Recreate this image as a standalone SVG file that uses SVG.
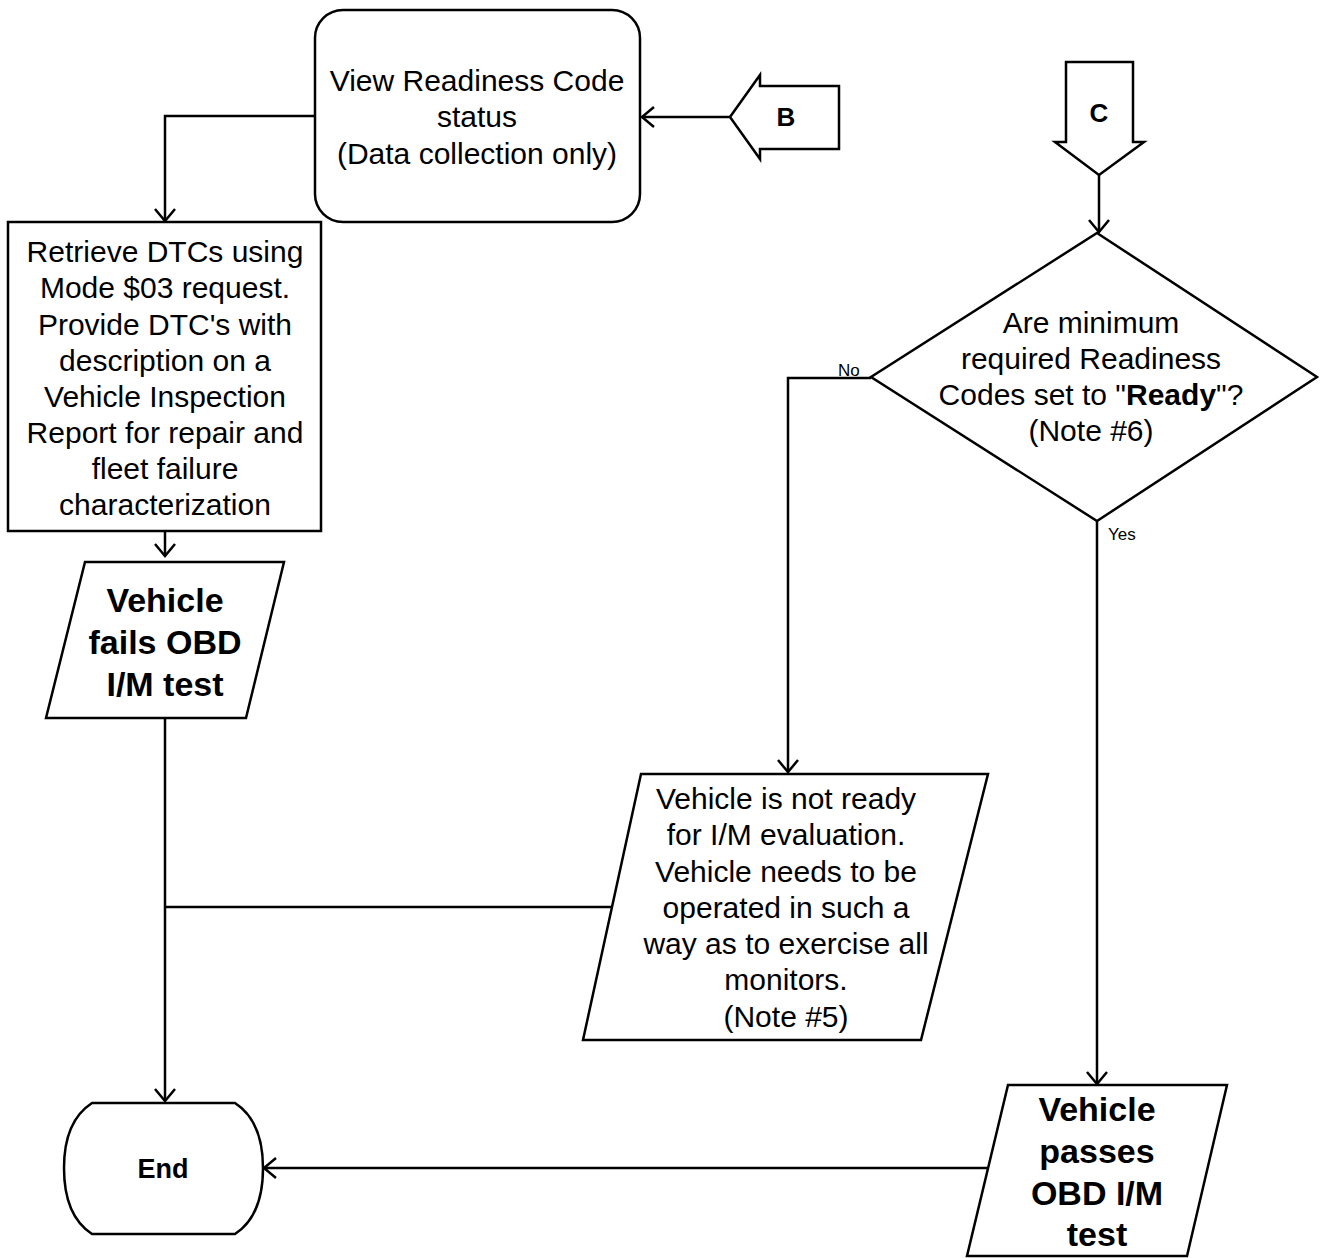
<svg xmlns="http://www.w3.org/2000/svg" width="1321" height="1258" viewBox="0 0 1321 1258">
<style>
.s{fill:#fff;stroke:#000;stroke-width:2.5;stroke-linejoin:miter}
.c{fill:none;stroke:#000;stroke-width:2.5}
.t{font-family:"Liberation Sans",Arial,sans-serif;font-size:30px;text-anchor:middle;fill:#000}
.b{font-family:"Liberation Sans",Arial,sans-serif;font-size:34px;font-weight:bold;text-anchor:middle;fill:#000}
.l{font-family:"Liberation Sans",Arial,sans-serif;font-size:17px;fill:#000}
</style>
<defs>
<marker id="ah" markerUnits="userSpaceOnUse" markerWidth="16" markerHeight="24" refX="13" refY="11" orient="auto">
<path d="M1,1 L13,11 L1,21" fill="none" stroke="#000" stroke-width="2.5"/>
</marker>
</defs>
<rect width="1321" height="1258" fill="#fff"/>
<g id="connectors">
<polyline class="c" points="315,116 165,116 165,221" marker-end="url(#ah)"/>
<line class="c" x1="730" y1="117" x2="642" y2="117" marker-end="url(#ah)"/>
<line class="c" x1="165" y1="531" x2="165" y2="556" marker-end="url(#ah)"/>
<line class="c" x1="165" y1="718" x2="165" y2="1101" marker-end="url(#ah)"/>
<line class="c" x1="165" y1="907" x2="612" y2="907"/>
<line class="c" x1="1099" y1="175" x2="1099" y2="232" marker-end="url(#ah)"/>
<polyline class="c" points="871,378 788,378 788,772" marker-end="url(#ah)"/>
<line class="c" x1="1097" y1="521" x2="1097" y2="1084" marker-end="url(#ah)"/>
<line class="c" x1="987" y1="1168" x2="264" y2="1168" marker-end="url(#ah)"/>
<text class="l" x="838" y="376">No</text>
<text class="l" x="1108" y="540">Yes</text>
</g>
<g id="view-readiness">
<rect class="s" x="315" y="10" width="325" height="212" rx="28" ry="28"/>
<text class="t" x="477" y="91">View Readiness Code</text>
<text class="t" x="477" y="127">status</text>
<text class="t" x="477" y="164">(Data collection only)</text>
</g>
<g id="connector-b">
<polygon class="s" points="730,117 760,75 760,86 839,86 839,149 760,149 760,159"/>
<text class="b" x="786" y="126" style="font-size:26px">B</text>
</g>
<g id="connector-c">
<polygon class="s" points="1066,62 1133,62 1133,142 1144,142 1099,175 1055,142 1066,142"/>
<text class="b" x="1099" y="122" style="font-size:26px">C</text>
</g>
<g id="retrieve-dtcs">
<rect class="s" x="8" y="222" width="313" height="309"/>
<text class="t" x="165" y="262">Retrieve DTCs using</text>
<text class="t" x="165" y="298">Mode $03 request.</text>
<text class="t" x="165" y="335">Provide DTC's with</text>
<text class="t" x="165" y="371">description on a</text>
<text class="t" x="165" y="407">Vehicle Inspection</text>
<text class="t" x="165" y="443">Report for repair and</text>
<text class="t" x="165" y="479">fleet failure</text>
<text class="t" x="165" y="515">characterization</text>
</g>
<g id="vehicle-fails">
<polygon class="s" points="85,562 284,562 246,718 46,718"/>
<text class="b" x="165" y="612">Vehicle</text>
<text class="b" x="165" y="654">fails OBD</text>
<text class="b" x="165" y="696">I/M test</text>
</g>
<g id="readiness-decision">
<polygon class="s" points="1097,233 1317,377 1097,521 871,377"/>
<text class="t" x="1091" y="333">Are minimum</text>
<text class="t" x="1091" y="369">required Readiness</text>
<text class="t" x="1091" y="405">Codes set to "<tspan font-weight="bold">Ready</tspan>"?</text>
<text class="t" x="1091" y="441">(Note #6)</text>
</g>
<g id="not-ready">
<polygon class="s" points="641,774 988,774 921,1040 583,1040"/>
<text class="t" x="786" y="809">Vehicle is not ready</text>
<text class="t" x="786" y="845">for I/M evaluation.</text>
<text class="t" x="786" y="882">Vehicle needs to be</text>
<text class="t" x="786" y="918">operated in such a</text>
<text class="t" x="786" y="954">way as to exercise all</text>
<text class="t" x="786" y="990">monitors.</text>
<text class="t" x="786" y="1027">(Note #5)</text>
</g>
<g id="vehicle-passes">
<polygon class="s" points="1008,1085 1227,1085 1187,1256 967,1256"/>
<text class="b" x="1097" y="1121">Vehicle</text>
<text class="b" x="1097" y="1163">passes</text>
<text class="b" x="1097" y="1205">OBD I/M</text>
<text class="b" x="1097" y="1246">test</text>
</g>
<g id="end">
<path class="s" d="M92,1103 L235,1103 C255,1116 263,1140 263,1168 C263,1196 255,1221 235,1234 L92,1234 C72,1221 64,1196 64,1168 C64,1140 72,1116 92,1103 Z"/>
<text class="b" x="163" y="1178" style="font-size:27px">End</text>
</g>
</svg>
